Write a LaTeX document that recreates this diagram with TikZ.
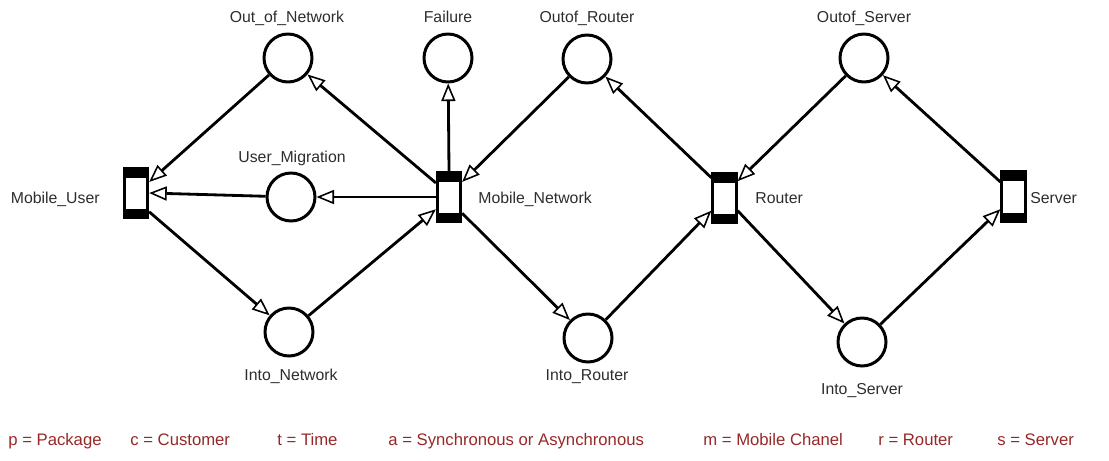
\documentclass[tikz,border=0pt]{standalone}
\usepackage{fontspec}
\setmainfont{Liberation Sans}
\usetikzlibrary{arrows.meta,calc}
\definecolor{legendred}{RGB}{150,40,40}
\definecolor{labelgray}{RGB}{45,45,45}
\begin{document}
\begin{tikzpicture}[x=0.02cm,y=-0.02cm,
  place/.style={circle, draw, line width=1.7pt, minimum size=0.96cm, inner sep=0pt, fill=white},
  trans/.style={rectangle, draw, line width=1.6pt, fill=white, minimum width=0.47cm,
    minimum height=0.99cm, inner sep=0pt,
    path picture={
      \fill[black] (path picture bounding box.north west) rectangle ([yshift=-0.19cm]path picture bounding box.north east);
      \fill[black] (path picture bounding box.south west) rectangle ([yshift=0.17cm]path picture bounding box.south east);
    }},
  lbl/.style={text=labelgray, font=\fontsize{9}{11}\selectfont, inner sep=0pt},
  key/.style={text=legendred, font=\fontsize{9.5}{11}\selectfont, inner sep=0pt, anchor=base west},
  arc/.style={line width=1.6pt, -{Triangle[open, length=10pt, width=8pt, line width=0.9pt]}},
]
\useasboundingbox (0,0) rectangle (1109,460);

% transitions
\node[trans] (MU) at (136,193) {};
\node[trans] (MN) at (449,197) {};
\node[trans] (R)  at (724.5,198) {};
\node[trans] (S)  at (1013.5,196.5) {};

% places
\node[place] (ON) at (288,58) {};
\node[place] (F)  at (448,58) {};
\node[place] (UM) at (291,197) {};
\node[place] (IN) at (289,332) {};
\node[place] (OR) at (587,59) {};
\node[place] (IR) at (588,338) {};
\node[place] (OS) at (864,58) {};
\node[place] (IS) at (862,342) {};

% arcs
\draw[arc] (ON) -- (MU.40);
\draw[arc] (UM) -- (MU.east);
\draw[arc] (MU.-55) -- (IN);
\draw[arc] (IN) -- (MN.223);
\draw[arc] (MN.133) -- (ON);
\draw[arc] (MN.west) -- (UM);
\draw[arc] (MN.north) -- (F);
\draw[arc] (OR) -- (MN.49);
\draw[arc] (MN.-51) -- (IR);
\draw[arc] (IR) -- (R.224);
\draw[arc] (R.123) -- (OR);
\draw[arc] (OS) -- (R.52);
\draw[arc] (R.-44) -- (IS);
\draw[arc] (IS) -- (S.224);
\draw[arc] (S.132) -- (OS);

% labels
\node[lbl, anchor=base] (lON) at (287,22) {Out\_of\_Network};
\node[lbl, anchor=base] (lF)  at (448,22) {Failure};
\node[lbl, anchor=base] (lOR) at (587,22) {Outof\_Router};
\node[lbl, anchor=base] (lOS) at (864,22) {Outof\_Server};
\node[lbl, anchor=base] (lUM) at (292,162) {User\_Migration};
\node[lbl, anchor=base east] (lMU) at (100,203) {Mobile\_User};
\node[lbl, anchor=base west] (lMN) at (478,203) {Mobile\_Network};
\node[lbl, anchor=base west] (lR)  at (755,203) {Router};
\node[lbl, anchor=base west] (lS)  at (1030,203) {Server};
\node[lbl, anchor=base] (lIN) at (291,380) {Into\_Network};
\node[lbl, anchor=base] (lIR) at (587,380) {Into\_Router};
\node[lbl, anchor=base] (lIS) at (862,394) {Into\_Server};

% legend
\node[key] (kp) at (8,445)   {p = Package};
\node[key] (kc) at (130,445) {c = Customer};
\node[key] (kt) at (277,445) {t = Time};
\node[key] (ka) at (388,445) {a = Synchronous or Asynchronous};
\node[key] (km) at (703,445) {m = Mobile Chanel};
\node[key] (kr) at (878,445) {r = Router};
\node[key] (ks) at (997,445) {s = Server};
\end{tikzpicture}
\end{document}
